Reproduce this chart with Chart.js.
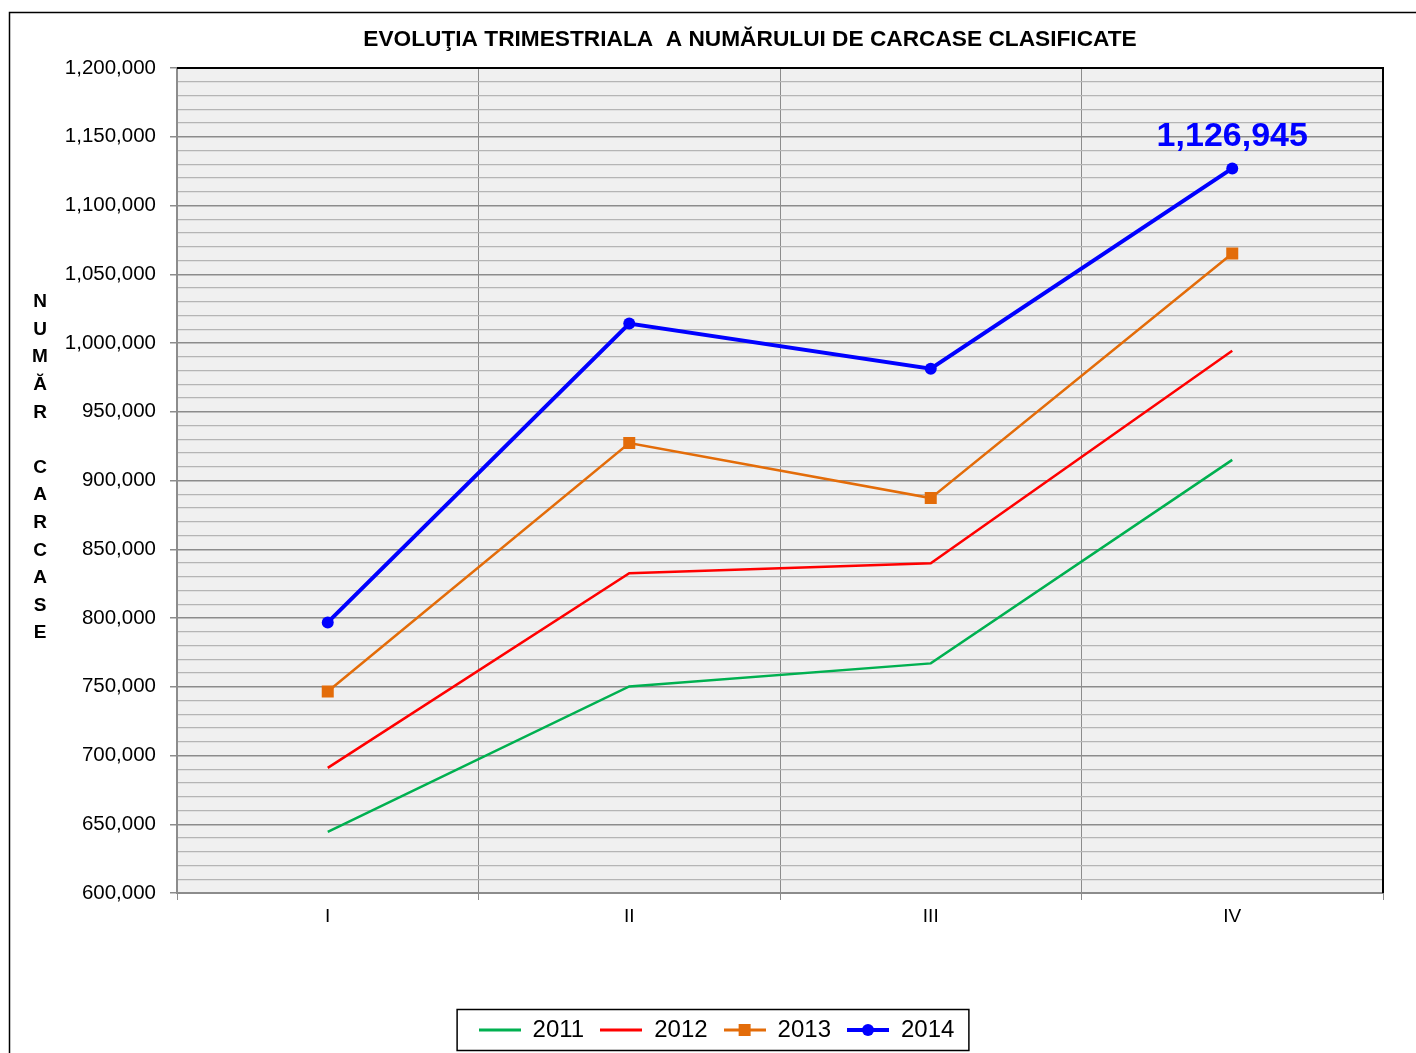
<!DOCTYPE html>
<html>
<head>
<meta charset="utf-8">
<title>Evoluţia trimestriala a numărului de carcase clasificate</title>
<script src="https://cdn.jsdelivr.net/npm/chart.js@4.4.1/dist/chart.umd.min.js"></script>
<style>
  html, body { margin: 0; padding: 0; background: #ffffff; }
  #carcaseChart { display: block; }
</style>
</head>
<body>
<canvas id="carcaseChart" width="1416" height="1053"></canvas>
<script>
// date
const quarters = ['I', 'II', 'III', 'IV'];
const years = ['2011', '2012', '2013', '2014'];
const values2011 = [644500, 750200, 767000, 915000];
const values2012 = [691000, 832600, 839800, 994400];
const values2013 = [746500, 927300, 887200, 1065100];
const values2014 = [796800, 1014100, 981300, 1126945];
const yMin = 600000;
const yMax = 1200000;
const yMajorStep = 50000;
const yMinorStep = 10000;
const yAxisTitle = ['N', 'U', 'M', 'Ă', 'R', '', 'C', 'A', 'R', 'C', 'A', 'S', 'E'];
const chartTitle = 'EVOLUŢIA TRIMESTRIALA  A NUMĂRULUI DE CARCASE CLASIFICATE';

const FONT = "'Liberation Sans', Arial, sans-serif";
const colors = ['#00b050', '#ff0000', '#e36c09', '#0000ff'];

function makeLegendIcon(color, width, marker) {
    const c = document.createElement('canvas');
    c.width = 42;
    c.height = 14;
    const g = c.getContext('2d');
    g.strokeStyle = color;
    g.fillStyle = color;
    g.lineWidth = width;
    g.beginPath();
    g.moveTo(0, 7);
    g.lineTo(42, 7);
    g.stroke();
    if (marker === 'rect') {
        g.fillRect(15, 1, 12, 12);
    } else if (marker === 'circle') {
        g.beginPath();
        g.arc(21, 7, 6, 0, Math.PI * 2);
        g.fill();
    }
    return c;
}

const legendIcons = [
    makeLegendIcon(colors[0], 3, null),
    makeLegendIcon(colors[1], 3, null),
    makeLegendIcon(colors[2], 3, 'rect'),
    makeLegendIcon(colors[3], 4, 'circle')
];

// fundal, chenar exterior, titlu, margini negre sus/dreapta
const framePlugin = {
    id: 'frame',
    beforeDraw(chart) {
        const { ctx, chartArea: a } = chart;
        ctx.save();
        ctx.fillStyle = '#f0f0f0';
        ctx.fillRect(a.left, a.top, a.right - a.left, a.bottom - a.top);
        ctx.restore();
    },
    afterDraw(chart) {
        const { ctx, chartArea: a, legend } = chart;
        ctx.save();
        ctx.strokeStyle = '#000000';
        ctx.lineWidth = 1.5;
        ctx.strokeRect(9.5, 12.5, 1430, 1070);

        ctx.lineWidth = 2;
        ctx.beginPath();
        ctx.moveTo(a.left, a.top);
        ctx.lineTo(a.right, a.top);
        ctx.lineTo(a.right, a.bottom);
        ctx.stroke();

        // chenar legenda
        const boxes = legend.legendHitBoxes;
        if (boxes && boxes.length) {
            const l = Math.min(...boxes.map(b => b.left)) - 22;
            const r = Math.max(...boxes.map(b => b.left + b.width)) + 14;
            const t = Math.min(...boxes.map(b => b.top)) - 9;
            const btm = Math.max(...boxes.map(b => b.top + b.height)) + 8;
            ctx.lineWidth = 1.5;
            ctx.strokeRect(l + 0.5, t + 0.5, r - l, btm - t);
        }

        // titlul graficului
        ctx.fillStyle = '#000000';
        ctx.font = 'bold 22.7px ' + FONT;
        ctx.textAlign = 'center';
        ctx.textBaseline = 'middle';
        ctx.fillText(chartTitle, 750, 40);

        // titlul axei Y, litere una sub alta
        ctx.font = 'bold 19px ' + FONT;
        yAxisTitle.forEach((ch, i) => {
            ctx.fillText(ch, 40, 302 + i * 27.6);
        });
        ctx.restore();
    }
};

// eticheta valorii maxime
const valueLabelPlugin = {
    id: 'valueLabel',
    afterDatasetsDraw(chart) {
        const meta = chart.getDatasetMeta(3);
        const last = values2014.length - 1;
        const pt = meta.data[last];
        if (!pt) return;
        const { ctx } = chart;
        ctx.save();
        ctx.fillStyle = colors[3];
        ctx.font = 'bold 34px ' + FONT;
        ctx.textAlign = 'center';
        ctx.textBaseline = 'alphabetic';
        ctx.fillText(values2014[last].toLocaleString('en-US'), pt.x, pt.y - 22);
        ctx.restore();
    }
};

const canvas = document.getElementById('carcaseChart');
const ctx = canvas.getContext('2d');

new Chart(ctx, {
    type: 'line',
    data: {
        labels: quarters,
        datasets: [
            {
                label: years[0],
                data: values2011,
                borderColor: colors[0],
                backgroundColor: colors[0],
                borderWidth: 2.5,
                pointRadius: 0,
                tension: 0
            },
            {
                label: years[1],
                data: values2012,
                borderColor: colors[1],
                backgroundColor: colors[1],
                borderWidth: 2.5,
                pointRadius: 0,
                tension: 0
            },
            {
                label: years[2],
                data: values2013,
                borderColor: colors[2],
                backgroundColor: colors[2],
                borderWidth: 2.5,
                pointStyle: 'rect',
                pointRadius: 8.5,
                pointBorderWidth: 0,
                tension: 0
            },
            {
                label: years[3],
                data: values2014,
                borderColor: colors[3],
                backgroundColor: colors[3],
                borderWidth: 4,
                pointStyle: 'circle',
                pointRadius: 6,
                pointBorderWidth: 0,
                tension: 0
            }
        ]
    },
    options: {
        responsive: false,
        animation: false,
        layout: {
            padding: { left: 50, right: 33, top: 68, bottom: 1 }
        },
        plugins: {
            title: { display: false },
            legend: {
                display: true,
                position: 'bottom',
                labels: {
                    usePointStyle: true,
                    pointStyleWidth: 42,
                    color: '#000000',
                    padding: 16,
                    font: { family: FONT, size: 24 },
                    generateLabels(chart) {
                        const items = Chart.defaults.plugins.legend.labels.generateLabels(chart);
                        items.forEach((it, i) => { it.pointStyle = legendIcons[i]; });
                        return items;
                    }
                }
            },
            tooltip: { enabled: false }
        },
        scales: {
            x: {
                type: 'category',
                offset: true,
                afterFit(scale) { scale.height = 109; },
                grid: {
                    offset: true,
                    color: '#8c8c8c',
                    lineWidth: 1,
                    tickLength: 7
                },
                border: { color: '#8c8c8c', width: 2 },
                ticks: {
                    color: '#000000',
                    padding: 5,
                    font: { family: FONT, size: 19 }
                }
            },
            y: {
                min: yMin,
                max: yMax,
                afterFit(scale) { scale.width = 127; },
                grid: {
                    color(c) {
                        return c.tick && c.tick.value % yMajorStep === 0 ? '#8c8c8c' : '#b5b5b5';
                    },
                    tickColor(c) {
                        return c.tick && c.tick.value % yMajorStep === 0 ? '#8c8c8c' : 'rgba(0,0,0,0)';
                    },
                    lineWidth(c) {
                        return c.tick && c.tick.value % yMajorStep === 0 ? 1.5 : 1.2;
                    },
                    tickLength: 7
                },
                border: { color: '#8c8c8c', width: 2 },
                ticks: {
                    stepSize: yMinorStep,
                    autoSkip: false,
                    color: '#000000',
                    padding: 14,
                    font: { family: FONT, size: 20.5 },
                    callback(value) {
                        return value % yMajorStep === 0 ? value.toLocaleString('en-US') : '';
                    }
                }
            }
        }
    },
    plugins: [framePlugin, valueLabelPlugin]
});
</script>
</body>
</html>
